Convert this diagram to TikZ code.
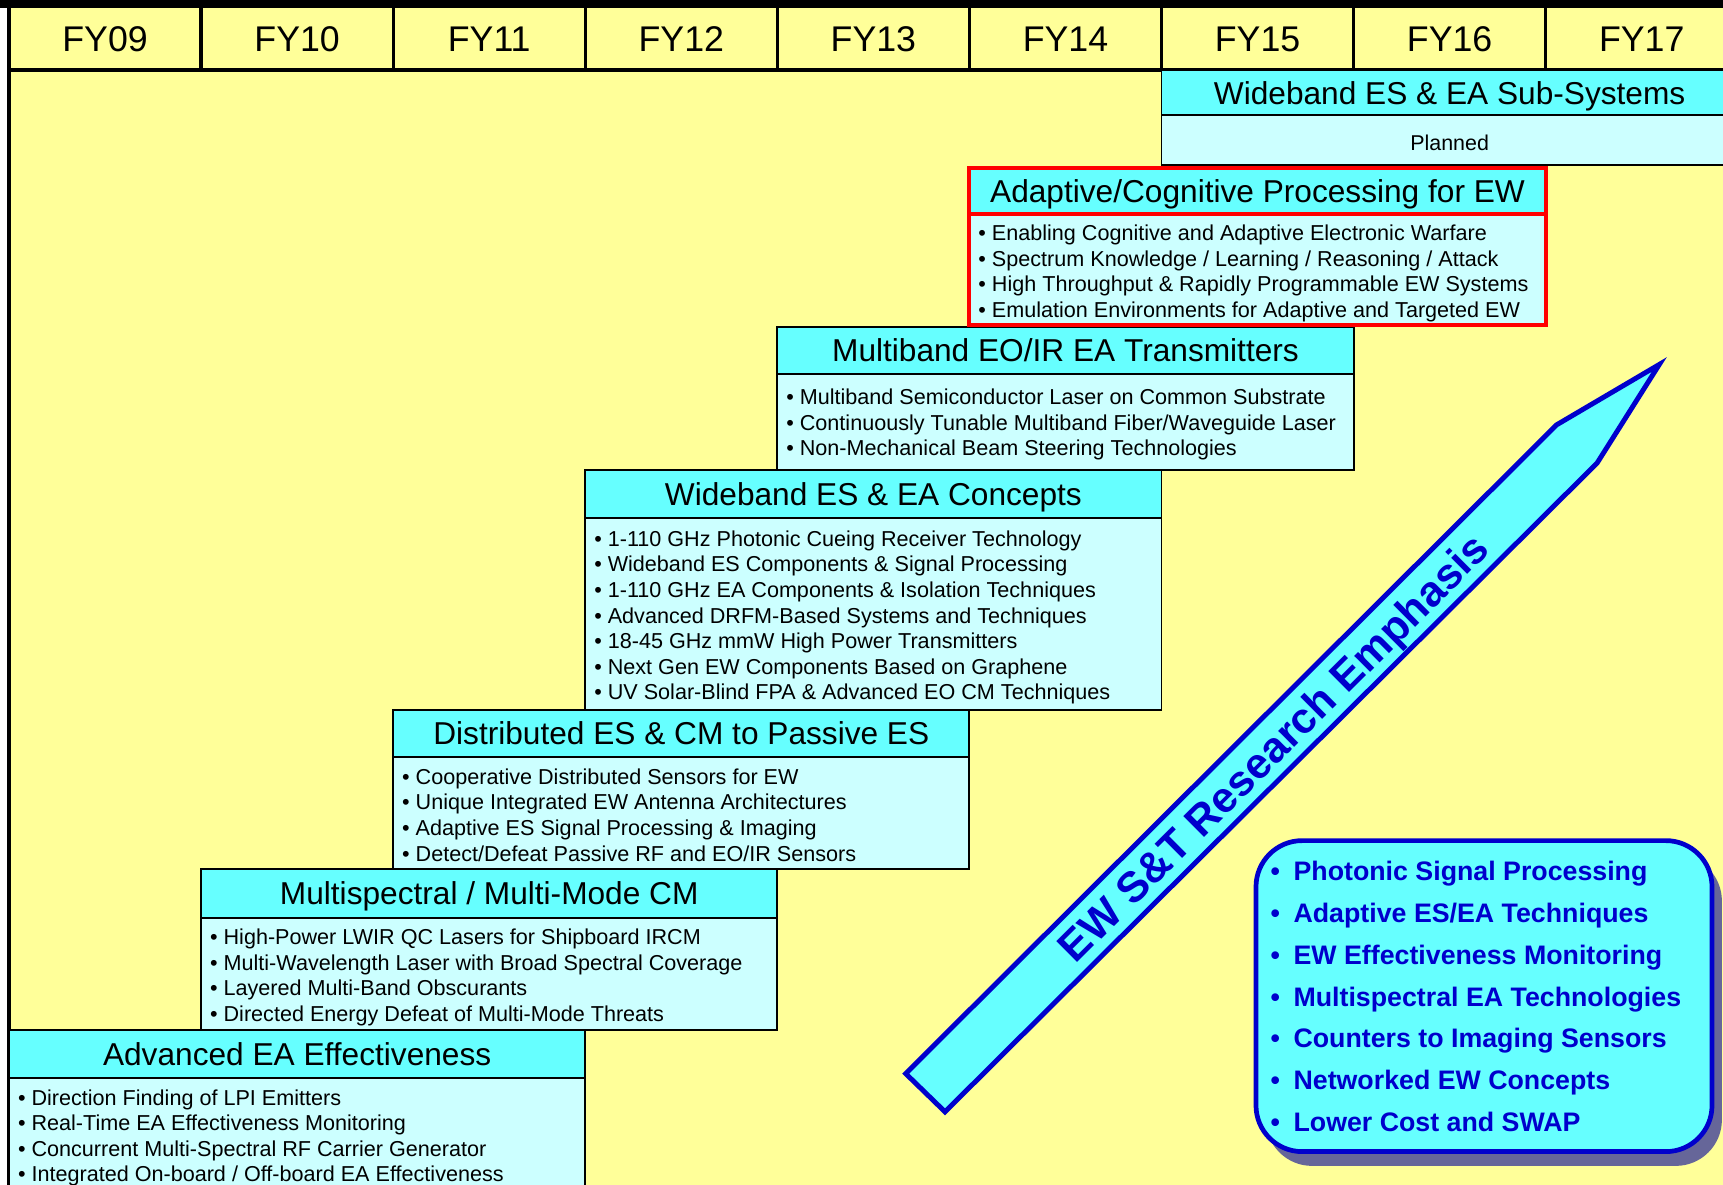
\documentclass[tikz,border=0pt]{standalone}
\usepackage{fontspec}
\setmainfont{Liberation Sans}
\usetikzlibrary{calc,shadows}

\definecolor{paper}{HTML}{FFFF99}
\definecolor{band}{HTML}{66FFFF}
\definecolor{pane}{HTML}{CCFFFF}
\definecolor{navy}{HTML}{0000CC}
\definecolor{dusk}{HTML}{666699}

% keep a line from adding depth below its baseline
\newcommand{\nodepth}[1]{\raisebox{0pt}[\height][0pt]{#1}}
\newcommand{\itm}{\textbullet\ }
\newcommand{\bitm}{\makebox[21pt][l]{\textbullet}}

\tikzset{
  yearcell/.style={font=\fontsize{32.5}{38}\selectfont, text height=23.3pt, text depth=0pt, inner sep=0pt},
  titleband/.style={draw=black, line width=1.8pt, fill=band, anchor=north west, outer sep=0pt, inner sep=0pt,
     minimum width=524.4pt, font=\fontsize{28.8}{34}\selectfont, text height=20.6pt, text depth=0pt},
  bodypane/.style={draw=black, line width=1.8pt, fill=pane, anchor=north west, outer sep=0pt, inner sep=0pt,
     minimum width=524.4pt, font=\fontsize{19.5}{23.3}\selectfont, text height=17.9pt, text depth=0pt},
  itemlist/.style={anchor=west, align=left, inner sep=0pt, font=\fontsize{19.65}{23.3}\selectfont},
  redframe/.style={draw=red, line width=3.5pt},
}

\begin{document}
\begin{tikzpicture}[x=1pt,y=-1pt]
\path[use as bounding box] (0,0) rectangle (1568,1078);
\clip (0,0) rectangle (1568,1078);

% page and chart area
\fill[white] (0,0) rectangle (1568,1078);
\fill[paper] (8.2,0) rectangle (1568,1078);

% fiscal-year header row
\foreach \lab [count=\i from 0] in {FY09,FY10,FY11,FY12,FY13,FY14,FY15,FY16,FY17}
  \node[yearcell] (\lab) at ({8.2+174.8*(\i+0.5)},35.5) {\lab};
\foreach \i in {1,...,8}
  \draw[line width=3pt] ({8.2+174.8*\i},7) -- ({8.2+174.8*\i},63.7);
\draw[line width=3.3pt] (8.2,63.7) -- (1568,63.7);
\fill[black] (0,0) rectangle (1568,7.3);
\draw[line width=3.6pt] (8.2,0) -- (8.2,1078);

% Advanced EA Effectiveness
\node[titleband, minimum height=44pt] (advT) at (8.2,937) {Advanced EA Effectiveness};
\node[bodypane, minimum height=102pt] (advB) at (8.2,981) {};
\node[itemlist] (advL) at ($(advB.west)+(8,1.5)$) {\itm Direction Finding of LPI Emitters\\
  \itm Real-Time EA Effectiveness Monitoring\\
  \itm Concurrent Multi-Spectral RF Carrier Generator\\
  \nodepth{\itm Integrated On-board / Off-board EA Effectiveness}};

% Multispectral / Multi-Mode CM
\node[titleband, minimum height=44pt] (msT) at (183,791) {Multispectral / Multi-Mode CM};
\node[bodypane, minimum height=102pt] (msB) at (183,835) {};
\node[itemlist] (msL) at ($(msB.west)+(8,1.5)$) {\itm High-Power LWIR QC Lasers for Shipboard IRCM\\
  \itm Multi-Wavelength Laser with Broad Spectral Coverage\\
  \itm Layered Multi-Band Obscurants\\
  \nodepth{\itm Directed Energy Defeat of Multi-Mode Threats}};

% Distributed ES & CM to Passive ES
\node[titleband, minimum height=43pt] (dsT) at (357.8,646) {Distributed ES \& CM to Passive ES};
\node[bodypane, minimum height=102pt] (dsB) at (357.8,689) {};
\node[itemlist] (dsL) at ($(dsB.west)+(8,1.5)$) {\itm Cooperative Distributed Sensors for EW\\
  \itm Unique Integrated EW Antenna Architectures\\
  \itm Adaptive ES Signal Processing \& Imaging\\
  \nodepth{\itm Detect/Defeat Passive RF and EO/IR Sensors}};

% Wideband ES & EA Concepts
\node[titleband, minimum height=43pt] (wcT) at (532.6,428) {Wideband ES \& EA Concepts};
\node[bodypane, minimum height=175pt] (wcB) at (532.6,471) {};
\node[itemlist] (wcL) at ($(wcB.west)+(8,1.5)$) {\itm 1-110 GHz Photonic Cueing Receiver Technology\\
  \itm Wideband ES Components \& Signal Processing\\
  \itm 1-110 GHz EA Components \& Isolation Techniques\\
  \itm Advanced DRFM-Based Systems and Techniques\\
  \itm 18-45 GHz mmW High Power Transmitters\\
  \itm Next Gen EW Components Based on Graphene\\
  \nodepth{\itm UV Solar-Blind FPA \& Advanced EO CM Techniques}};

% Multiband EO/IR EA Transmitters
\node[titleband, minimum height=42pt] (mbT) at (707.4,298) {Multiband EO/IR EA Transmitters};
\node[bodypane, minimum height=88pt] (mbB) at (707.4,340) {};
\node[itemlist] (mbL) at ($(mbB.west)+(8,0.5)$) {\itm Multiband Semiconductor Laser on Common Substrate\\
  \itm Continuously Tunable Multiband Fiber/Waveguide Laser\\
  \nodepth{\itm Non-Mechanical Beam Steering Technologies}};

% Adaptive/Cognitive Processing for EW
\node[titleband, redframe, minimum height=42pt] (acT) at (882.2,153) {Adaptive/Cognitive Processing for EW};
\node[bodypane, redframe, minimum height=100.5pt] (acB) at (882.2,195) {};
\node[itemlist] (acL) at ($(acB.west)+(8,1.5)$) {\itm Enabling Cognitive and Adaptive Electronic Warfare\\
  \itm Spectrum Knowledge / Learning / Reasoning / Attack\\
  \itm High Throughput \& Rapidly Programmable EW Systems\\
  \nodepth{\itm Emulation Environments for Adaptive and Targeted EW}};

% Wideband ES & EA Sub-Systems
\node[titleband, minimum height=41pt] (ssT) at (1057,64) {Wideband ES \& EA Sub-Systems};
\node[bodypane, minimum height=45.5pt] (ssB) at (1057,105) {Planned};

% research-emphasis pencil arrow
\coordinate (tailA) at (824.2,977);
\coordinate (shoulderA) at (1416.6,386.6);
\coordinate (tip) at (1510,331.7);
\coordinate (shoulderB) at (1453.4,421.4);
\coordinate (tailB) at (860,1011.8);
\fill[dusk, shift={(5,9)}] (tailA) -- (shoulderA) -- (tip) -- (shoulderB) -- (tailB) -- cycle;
\draw[navy, fill=band, line width=4.5pt, line join=miter] (tailA) -- (shoulderA) -- (tip) -- (shoulderB) -- (tailB) -- cycle;
\node[font=\bfseries\fontsize{39}{44}\selectfont, text=navy, rotate=44.85, text height=27.9pt, text depth=0pt, inner sep=0pt]
  (emphasis) at (1158.3,680.2) {EW S\&T Research Emphasis};

% research thrust list
\node[draw=navy, fill=band, line width=4.3pt, rounded corners=42pt, anchor=north west, outer sep=0pt,
  minimum width=415pt, minimum height=283pt,
  drop shadow={shadow xshift=9pt, shadow yshift=-13pt, fill=dusk, opacity=1}] (thrusts) at (1143,765) {};
\node[anchor=west, align=left, inner sep=0pt, text=navy, font=\bfseries\fontsize{24.35}{38}\selectfont]
  (thrustlist) at ($(thrusts.west)+(13,0.5)$) {\bitm Photonic Signal Processing\\
  \bitm Adaptive ES/EA Techniques\\
  \bitm EW Effectiveness Monitoring\\
  \bitm Multispectral EA Technologies\\
  \bitm Counters to Imaging Sensors\\
  \bitm Networked EW Concepts\\
  \bitm Lower Cost and SWAP};
\end{tikzpicture}
\end{document}
